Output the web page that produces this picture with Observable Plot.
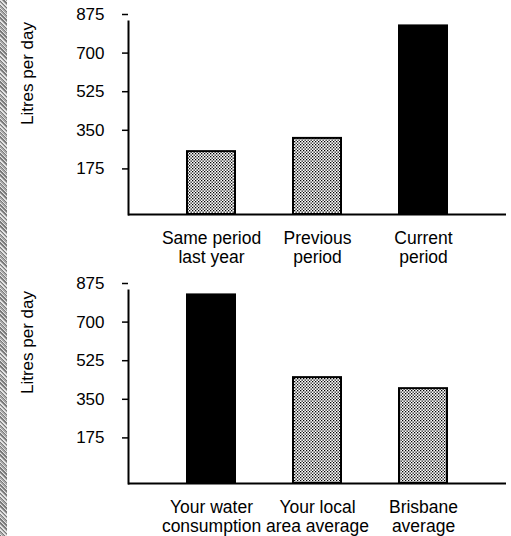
<!DOCTYPE html>
<html>
<head>
<meta charset="utf-8">
<script src="https://cdn.jsdelivr.net/npm/d3@7"></script>
<script src="https://cdn.jsdelivr.net/npm/@observablehq/plot@0.6"></script>
<style>
  html, body { margin: 0; padding: 0; background: #fff; }
  body { width: 511px; height: 536px; position: relative; overflow: hidden; font-family: "Liberation Sans", Arial, sans-serif; }
  #strip { position: absolute; left: 0; top: 0; width: 7px; height: 536px;
    background: repeating-linear-gradient(45deg, #7a7a7a 0 1px, #e4e4e4 1px 2px, #a8a8a8 2px 3px); }
  #charts svg { display: block; overflow: visible; }
</style>
</head>
<body>
<svg width="0" height="0" style="position:absolute">
  <defs>
    <pattern id="dots" width="3" height="3" patternUnits="userSpaceOnUse">
      <rect width="3" height="3" fill="#ffffff"></rect>
      <rect x="0" y="0" width="1.3" height="1.3" fill="#000"></rect>
      <rect x="1.5" y="1.5" width="1.3" height="1.3" fill="#000"></rect>
    </pattern>
  </defs>
</svg>
<div id="strip"></div>
<div id="charts"></div>
<script>
const yTicks = [175, 350, 525, 700, 875];
const yLabel = "Litres per day";

const topCategories = ["Same period\nlast year", "Previous\nperiod", "Current\nperiod"];
const topValues = [285, 345, 855];
const topHighlight = "Current\nperiod";

const bottomCategories = ["Your water\nconsumption", "Your local\narea average", "Brisbane\naverage"];
const bottomValues = [855, 480, 430];
const bottomHighlight = "Your water\nconsumption";

function chart(categories, values, highlight, height, marginTop, marginBottom) {
  const data = categories.map((c, i) => ({category: c, value: values[i]}));
  const svg = Plot.plot({
    width: 511,
    height,
    marginLeft: 128,
    marginRight: 5,
    marginTop,
    marginBottom,
    style: {fontFamily: "'Liberation Sans', Arial, sans-serif", color: "#000", background: "transparent", overflow: "visible"},
    x: {domain: categories, padding: 0.55},
    y: {domain: [0, 875], ticks: yTicks},
    marks: [
      Plot.barY(data.filter(d => d.category !== highlight), {x: "category", y: "value", fill: "#999", stroke: "#000", strokeWidth: 2, className: "dotted"}),
      Plot.barY(data.filter(d => d.category === highlight), {x: "category", y: "value", fill: "#000", stroke: "#000", strokeWidth: 2}),
      Plot.frame({anchor: "left", stroke: "#000", strokeWidth: 2}),
      Plot.ruleY([0], {stroke: "#000", strokeWidth: 2}),
      Plot.axisY({ticks: yTicks, tickSize: 6, tickPadding: 18, fontSize: 17, dy: -7, label: null, strokeWidth: 1.5}),
      Plot.axisX({tickSize: 0, tickPadding: 16, fontSize: 17.5, lineHeight: 1.1, label: null}),
      Plot.text([yLabel], {text: d => d, frameAnchor: "top-left", textAnchor: "middle", lineAnchor: "middle", rotate: -90, dx: -101, dy: 52, fontSize: 17, fill: "#000"})
    ]
  });
  d3.select(svg).selectAll(".dotted").attr("fill", "url(#dots)");
  d3.select(svg).selectAll(".dotted rect").attr("fill", "url(#dots)");
  return svg;
}

const host = document.getElementById("charts");
host.appendChild(chart(topCategories, topValues, topHighlight, 270, 21, 56));
host.appendChild(chart(bottomCategories, bottomValues, bottomHighlight, 266, 20, 53));
</script>
</body>
</html>
